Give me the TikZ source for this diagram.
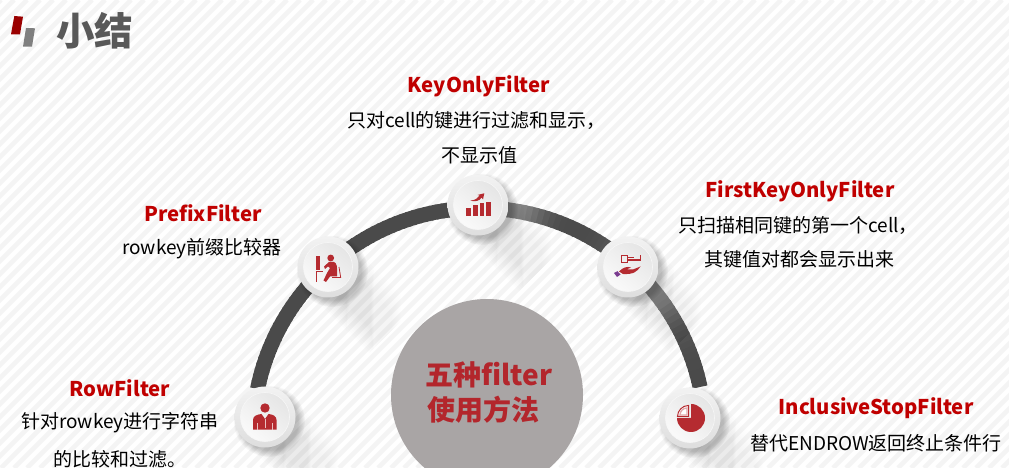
\documentclass[tikz,border=0pt]{standalone}
\usepackage{fontspec}
\setmainfont{Noto Sans CJK SC}
\usetikzlibrary{fadings,calc}
\definecolor{RedT}{HTML}{C00000}
\definecolor{RedI}{HTML}{B52B30}
\definecolor{RedC}{HTML}{B3262C}
\definecolor{GrayT}{HTML}{595959}
\definecolor{GrayC}{HTML}{A9A5A5}
\definecolor{StripeC}{HTML}{F4F4F4}
\definecolor{CuffC}{HTML}{7A3B8F}
\tikzset{
  headtext/.style={font=\fontsize{20.3}{24}\selectfont\bfseries, text=RedT, inner sep=0pt},
  bodytext/.style={font=\fontsize{19}{22}\selectfont, text=black, inner sep=0pt},
  centertext/.style={font=\fontsize{28}{34}\selectfont\bfseries, text=RedC, inner sep=0pt},
  btnouter/.style={circle, minimum size=61pt, inner sep=0pt, top color=white!95!black, bottom color=white!87!black},
  btninner/.style={circle, minimum size=49pt, inner sep=0pt, draw=white!97!black, line width=0.6pt, top color=white!90!black, bottom color=white!98!black, shading angle=-40},
  longshadow/.style={black, opacity=0.016, path fading=east},
  softshadow/.style={black, opacity=0.2, path fading=circle with fuzzy edge 20 percent},
  iconfill/.style={fill=RedI, draw=none}
}
\begin{document}
\begin{tikzpicture}[x=1pt,y=1pt]%
\useasboundingbox (0,0) rectangle (1009,468);%
\clip (0,0) rectangle (1009,468);%
\fill[white] (0,0) rectangle (1009,468);%
% stripes
\foreach \i in {-480,-467,...,1020} {%
  \draw[StripeC, line width=4.5pt] (\i,0) -- ++(468,468);%
}%
% title
\fill[RedT!80!black] (14.3,452) -- (23,451.3) -- (20,433.7) -- (11,433.7) -- cycle;%
\fill[white!50!black] (26,440) -- (35,439.7) -- (32,421.3) -- (23,421.3) -- cycle;%
\node[font=\fontsize{38.5}{44}\selectfont\bfseries, text=GrayT, inner sep=0pt] (title) at (94.5,437) {小结};%
% ring
\coordinate (ringcenter) at (479,34);%
\foreach \a in {12,13.5,...,167} {%
  \pgfmathsetmacro{\shade}{71-24*exp(-((\a-80)/7)^2)-26*exp(-((\a-40)/11)^2)}%
  \draw[line width=15pt, black!\shade!white] ($(ringcenter)+(\a:226)$) arc[start angle=\a, end angle=\a+2, radius=226];%
}%
% centre disc
\node[circle, minimum size=192pt, inner sep=0pt, fill=GrayC] (disc) at (487,73) {};%
\node[centertext] (discone) at (489,93.5) {五种filter};%
\node[centertext] (disctwo) at (483,58.5) {使用方法};%
% shadows
\foreach \x/\y in {478/263, 328/201, 628/201, 265/51, 690/50} {%
  \begin{scope}[shift={(\x,\y)}, rotate=-45]%
    \foreach \w in {32,30,...,14} {%
      \fill[longshadow] (0,-\w) rectangle (90,\w);%
    }%
  \end{scope}%
  \fill[softshadow] (\x+4,\y-4) circle (36);%
}%
% buttons
\foreach \name/\x/\y in {keyonly/478/263, prefix/328/201, firstkey/628/201, rowf/265/51, inclusive/690/50} {%
  \node[btnouter] (\name out) at (\x,\y) {};%
  \node[btninner] (\name) at (\x,\y) {};%
}%
% bar chart icon
\begin{scope}[shift={(keyonly.center)}]%
  \fill[iconfill] (-11.7,-10.7) rectangle (-7,-2.7);%
  \fill[iconfill] (-5,-10.7) rectangle (-0.3,0);%
  \fill[iconfill] (1.7,-10.7) rectangle (6.3,1.7);%
  \fill[iconfill] (8,-10.7) rectangle (13.3,3);%
  \fill[iconfill] (-7.7,4.3) .. controls (-2,5) and (0,7) .. (1.5,9.5) -- (-0.5,10) -- (6.3,11.7) -- (5,5.5) -- (3.5,7.5) .. controls (2,4) and (-3,3) .. cycle;%
\end{scope}%
% desk icon
\begin{scope}[shift={(prefix.center)}]%
  \fill[iconfill] (-11.7,11.3) -- (-7.7,11.3) -- (-7.7,-2.7) -- (-11.7,-2.7) -- cycle;%
  \fill[iconfill] (2.7,9) circle (3.4);%
  \draw[RedI, line width=0.8pt] (-12,-15) -- (-12,-4.3) -- (-5.5,-4.3);%
  \draw[RedI, line width=0.8pt] (11,0) -- (12.7,-10.5) -- (4,-10.5);%
  \fill[iconfill] (-4,0.5) -- (1,5) -- (6,5) .. controls (9,4) and (9.5,0) .. (9,-9.5) -- (2,-9.5) -- (-2,-15) -- (-4.5,-13.5) -- (-1,-6) -- (2,-1) -- (0,0.5) -- (-3,-2) -- cycle;%
\end{scope}%
% key icon
\begin{scope}[shift={(firstkey.center)}]%
  \draw[RedI, line width=1.3pt] (-6.8,4.5) rectangle (-0.3,11.5);%
  \draw[RedI, line width=1.3pt] (-0.3,7) -- (12.8,7) -- (12.8,11.5);%
  \draw[RedI, line width=1.3pt] (-0.3,9.8) -- (6,9.8);%
  \fill[iconfill] (-9,-4.5) .. controls (-5,-0.5) and (-1,1) .. (3,-0.5) -- (-1.5,-2.5) -- (5,-2.5) -- (12.5,0.5) .. controls (9,-5) and (5,-7.5) .. (-5,-7) -- cycle;%
  \fill[CuffC] (-14,-6) -- (-10.5,-4.2) -- (-7.5,-7.5) -- (-11,-10) -- cycle;%
\end{scope}%
% person icon
\begin{scope}[shift={(rowf.center)}]%
  \fill[iconfill] (0,9) circle (4.7);%
  \fill[iconfill] (-12,-12.7) -- (-12,-3) .. controls (-12,1) and (-8,2.5) .. (-3.5,3) -- (0,-2) -- (3.5,3) .. controls (8,2.5) and (11.5,1) .. (11.5,-3) -- (11.5,-12.7) -- cycle;%
  \draw[white!70!RedI, line width=0.7pt] (-7.5,-12.7) -- (-7.5,-6);%
  \draw[white!70!RedI, line width=0.7pt] (7,-12.7) -- (7,-6);%
  \draw[white!70!RedI, line width=0.5pt] (0,-2) -- (0,-11);%
\end{scope}%
% pie icon
\begin{scope}[shift={(inclusive.center)}]%
  \fill[iconfill] (1,0) -- (1,14) arc[start angle=90, end angle=-180, radius=14] -- cycle;%
  \fill[white, draw=RedI, line width=1pt] (-1.5,1.5) -- (-1.5,12.5) arc[start angle=90, end angle=180, radius=11] -- cycle;%
  \draw[white!60!RedI, line width=1.4pt] (-3,3) -- (-3,10) arc[start angle=90, end angle=180, radius=7] -- cycle;%
\end{scope}%
% labels
\node[headtext] (keyhead) at (479,382) {KeyOnlyFilter};%
\node[bodytext] (keyone) at (476.5,347) {只对cell的键进行过滤和显示，};%
\node[bodytext] (keytwo) at (479,313) {不显示值};%
\node[headtext] (prefixhead) at (203,254.5) {PrefixFilter};%
\node[bodytext] (prefixone) at (202,219) {rowkey前缀比较器};%
\node[headtext] (firsthead) at (800,277) {FirstKeyOnlyFilter};%
\node[bodytext] (firstone) at (798,243) {只扫描相同键的第一个cell，};%
\node[bodytext] (firsttwo) at (799,209) {其键值对都会显示出来};%
\node[headtext] (rowhead) at (120,80) {RowFilter};%
\node[bodytext] (rowone) at (120,45) {针对rowkey进行字符串};%
\node[bodytext] (rowtwo) at (120,9) {的比较和过滤。};%
\node[headtext] (inclhead) at (876,60) {InclusiveStopFilter};%
\node[bodytext] (inclone) at (876,25) {替代ENDROW返回终止条件行};%
\end{tikzpicture}
\end{document}
